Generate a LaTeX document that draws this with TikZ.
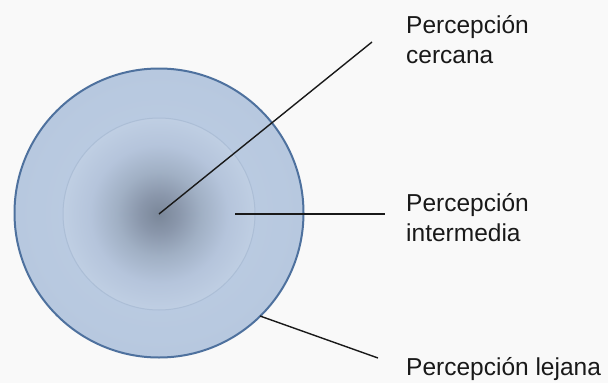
\documentclass[tikz,border=0pt]{standalone}
\usepackage{fontspec}
\setmainfont{Liberation Sans}
\definecolor{ringfill}{RGB}{183,200,223}
\definecolor{ringlight}{RGB}{190,206,228}
\definecolor{ringedge}{RGB}{78,113,158}
\definecolor{coreedge}{RGB}{172,190,214}
\definecolor{bg}{RGB}{249,249,249}
\pgfdeclareradialshading{coreshade}{\pgfpoint{0bp}{0bp}}{%
  rgb(0bp)=(0.48,0.53,0.60);
  rgb(5bp)=(0.54,0.59,0.67);
  rgb(11bp)=(0.63,0.69,0.77);
  rgb(18bp)=(0.71,0.77,0.86);
  rgb(25bp)=(0.75,0.81,0.89);
  rgb(50bp)=(0.75,0.81,0.89)}
\tikzset{
  lbl/.style={anchor=base west, font=\fontsize{24.5}{29.5}\selectfont, align=left, inner sep=0pt, text=black!90},
  leader/.style={draw=black!90, line width=1.4pt}
}
\begin{document}
\begin{tikzpicture}[x=1pt,y=-1pt]
\useasboundingbox (0,0) rectangle (608,383);
\fill[bg] (0,0) rectangle (608,383);
% outer circle
\path[inner color=ringlight, outer color=ringfill, draw=ringedge, line width=2pt]
  (159,213) circle[radius=144.5];
% inner circle
\path[shading=coreshade, draw=coreedge, line width=1pt]
  (159,214) circle[radius=96];
\coordinate (c) at (159,214);
\coordinate (m) at (235,214);
\coordinate (o) at (260,316);
\coordinate (e1) at (372,42);
\coordinate (e2) at (385,214);
\coordinate (e3) at (378,358);
\draw[leader] (c) -- (e1);
\draw[leader] (m) -- (e2);
\draw[leader] (o) -- (e3);
\node[lbl] (t1) at (406,63) {Percepción\\cercana};
\node[lbl] (t2) at (406,241) {Percepción\\intermedia};
\node[lbl] (t3) at (406,375) {Percepción lejana};
\end{tikzpicture}
\end{document}
